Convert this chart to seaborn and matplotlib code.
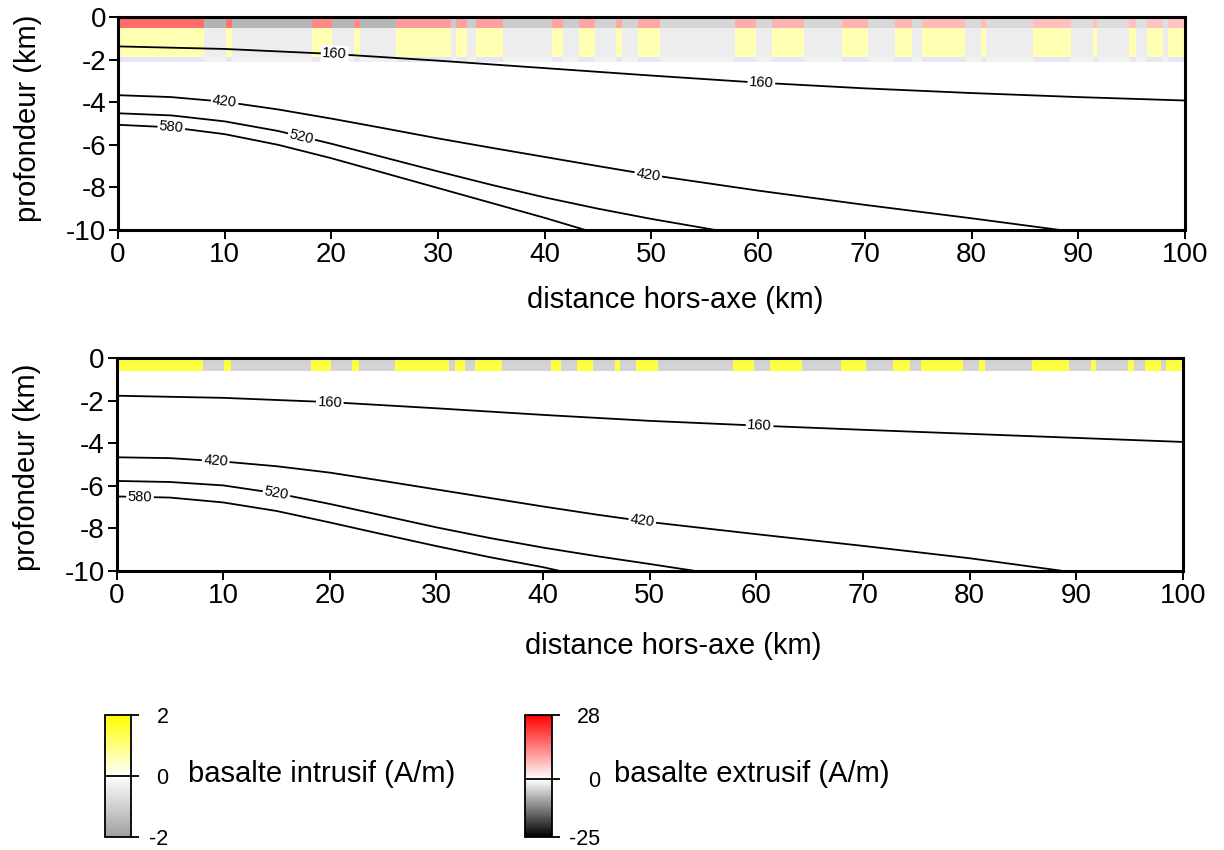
import matplotlib
matplotlib.use("Agg")
import matplotlib.pyplot as plt
import numpy as np
import pandas as pd
import seaborn as sns
from matplotlib.cm import ScalarMappable
from matplotlib.colors import LinearSegmentedColormap, ListedColormap, Normalize

# bornes des blocs d'aimantation (km hors-axe), le premier bloc est en polarité normale
block_edges = [0, 8.1, 10.1, 10.7, 18.2, 20.1, 22.1, 22.7, 26.1, 31.2, 31.7, 32.7, 33.6,
               36.1, 40.7, 41.7, 43.2, 44.7, 46.7, 47.2, 48.7, 50.8, 57.8, 59.8, 61.3,
               64.3, 67.9, 70.3, 72.8, 74.4, 75.4, 79.4, 80.9, 81.4, 85.8, 89.3, 91.4,
               91.8, 94.8, 95.4, 96.4, 97.9, 98.4, 100]

# aimantation du basalte extrusif par bloc (A/m), modèle du haut
extrusive_top = [16, -7.5, 15, -7, 13, -7, 12.5, -7, 11, -5, 10.5, -5, 10.5, -5, 10, -5,
                 10, -4.5, 9.5, -4.5, 9.5, -4, 9, -4, 8.5, -4, 8.5, -3.8, 8, -3.8, 7.5,
                 -3.5, 7.5, -3.5, 7, -3.3, 7, -3.3, 7, -3.2, 6.5, -3.2, 6.5]
# basalte intrusif (A/m) : valeur normale / inverse
intrusive_top = (0.6, -0.36)
intrusive_bottom = (1.47, -0.93)

# épaisseurs des couches (km)
layers_top = {"extrusif": (0, -0.5), "intrusif": (-0.5, -1.9), "gabbro": (-1.9, -2.1)}
layers_bottom = {"intrusif": (0, -0.6)}

# isothermes : distance (km), profondeur (km)
iso_top = {
    160: ([0, 10, 20, 30, 40, 50, 60, 70, 80, 90, 100],
          [-1.38, -1.5, -1.73, -2.05, -2.4, -2.75, -3.08, -3.35, -3.57, -3.76, -3.92]),
    420: ([0, 5, 10, 15, 20, 25, 30, 35, 40, 45, 50, 60, 70, 80, 88.3],
          [-3.67, -3.76, -3.98, -4.34, -4.77, -5.23, -5.7, -6.14, -6.57, -7.0, -7.42,
           -8.15, -8.82, -9.45, -10]),
    520: ([0, 5, 10, 15, 20, 25, 30, 35, 40, 45, 50, 56],
          [-4.52, -4.62, -4.9, -5.35, -5.95, -6.6, -7.25, -7.88, -8.47, -9.0, -9.48, -10]),
    580: ([0, 5, 10, 15, 20, 25, 30, 35, 40, 43.8],
          [-5.06, -5.18, -5.5, -6.0, -6.63, -7.33, -8.03, -8.73, -9.43, -10]),
}
iso_bottom = {
    160: ([0, 10, 20, 30, 40, 50, 60, 70, 80, 90, 100],
          [-1.77, -1.87, -2.07, -2.36, -2.67, -2.95, -3.17, -3.37, -3.56, -3.75, -3.94]),
    420: ([0, 5, 10, 15, 20, 25, 30, 35, 40, 45, 50, 60, 70, 80, 88.8],
          [-4.66, -4.7, -4.86, -5.08, -5.38, -5.77, -6.17, -6.57, -6.97, -7.35, -7.7,
           -8.27, -8.82, -9.4, -10]),
    520: ([0, 5, 10, 15, 20, 25, 30, 35, 40, 45, 50, 54.3],
          [-5.77, -5.82, -5.98, -6.35, -6.85, -7.4, -7.95, -8.45, -8.9, -9.3, -9.67, -10]),
    580: ([0, 5, 10, 15, 20, 25, 30, 35, 40, 41.6],
          [-6.5, -6.55, -6.78, -7.18, -7.72, -8.28, -8.83, -9.35, -9.82, -10]),
}
labels_top = [(160, 20.3), (160, 60.3), (420, 10.0), (420, 49.7), (520, 17.2), (580, 5.0)]
labels_bottom = [(160, 20.0), (160, 60.3), (420, 9.3), (420, 49.3), (520, 15.0), (580, 2.2)]

sns.set_theme(style="ticks")
plt.rcParams["font.family"] = ["Liberation Sans", "DejaVu Sans"]
plt.rcParams["axes.unicode_minus"] = False
plt.rcParams["text.color"] = "black"
plt.rcParams["axes.labelcolor"] = "black"
plt.rcParams["xtick.color"] = "black"
plt.rcParams["ytick.color"] = "black"

cmap_intr = LinearSegmentedColormap.from_list(
    "intr", [(0, "#a0a0a0"), (0.5, "#ffffff"), (1, "#ffff00")])
norm_intr = Normalize(-2, 2)
cmap_extr = LinearSegmentedColormap.from_list(
    "extr", [(0, "#000000"), (25 / 53, "#ffffff"), (1, "#ff0000")])
norm_extr = Normalize(-25, 28)
cmap_gab = ListedColormap(["#f1f1f1", "#e6e6f8"])

extr = np.array(extrusive_top, dtype=float)
normal = extr > 0


def stripes(ax, top, base, values, cmap, norm):
    c = np.asarray(values, dtype=float)[None, :]
    ax.pcolormesh(block_edges, [top, base], c, cmap=cmap, norm=norm,
                  shading="flat", zorder=1)


def style_axes(ax):
    ax.set_xlim(0, 100)
    ax.set_ylim(-10, 0)
    ax.set_xticks(range(0, 101, 10))
    ax.set_yticks(range(-10, 1, 2))
    ax.tick_params(direction="out", length=6.5, width=1.4, labelsize=20, pad=2,
                   colors="black")
    for s in ax.spines.values():
        s.set_linewidth(2.2)
        s.set_color("black")
        s.set_zorder(10)


def isotherms(ax, iso, labels):
    for temp, (xs, zs) in iso.items():
        df = pd.DataFrame({"x": xs, "z": zs})
        sns.lineplot(data=df, x="x", y="z", ax=ax, color="black", lw=1.3,
                     sort=False, estimator=None, zorder=3)
    ax.set_xlabel("distance hors-axe (km)", fontsize=21)
    ax.set_ylabel("profondeur (km)", fontsize=21)
    for temp, xl in labels:
        xs, zs = iso[temp]
        zl = np.interp(xl, xs, zs)
        p0 = ax.transData.transform((xl - 1.5, np.interp(xl - 1.5, xs, zs)))
        p1 = ax.transData.transform((xl + 1.5, np.interp(xl + 1.5, xs, zs)))
        ang = np.degrees(np.arctan2(p1[1] - p0[1], p1[0] - p0[0]))
        ax.text(xl, zl, str(temp), rotation=ang, rotation_mode="anchor",
                ha="center", va="center", fontsize=10.5, zorder=5,
                bbox=dict(fc="white", ec="none", pad=1.2))


fig = plt.figure(figsize=(12.24, 8.5), dpi=100)

# modèle du haut : extrusif + intrusif + gabbro
ax1 = fig.add_axes([0.0964, 0.7294, 0.8717, 0.2506])
style_axes(ax1)
t, b = layers_top["extrusif"]
stripes(ax1, t, b, extr, cmap_extr, norm_extr)
t, b = layers_top["intrusif"]
stripes(ax1, t, b, np.where(normal, *intrusive_top), cmap_intr, norm_intr)
t, b = layers_top["gabbro"]
stripes(ax1, t, b, normal.astype(float), cmap_gab, Normalize(0, 1))
isotherms(ax1, iso_top, labels_top)
ax1.xaxis.set_label_coords(0.522, -0.265)
ax1.yaxis.set_label_coords(-0.071, 0.526)

# modèle du bas : intrusif seul
ax2 = fig.add_axes([0.0952, 0.3282, 0.8713, 0.2506])
style_axes(ax2)
t, b = layers_bottom["intrusif"]
stripes(ax2, t, b, np.where(normal, *intrusive_bottom), cmap_intr, norm_intr)
isotherms(ax2, iso_bottom, labels_bottom)
ax2.xaxis.set_label_coords(0.522, -0.285)
ax2.yaxis.set_label_coords(-0.071, 0.488)


# échelles de couleur
def colorbar(rect, cmap, norm, ticks, text, text_x, pad):
    cax = fig.add_axes(rect)
    cb = fig.colorbar(ScalarMappable(norm=norm, cmap=cmap), cax=cax, ticks=ticks)
    cb.outline.set_linewidth(1.3)
    cb.outline.set_edgecolor("black")
    cax.set_yticklabels([str(v) for v in ticks], ha="right")
    cax.tick_params(length=6, width=1.3, labelsize=15.5, pad=pad, colors="black")
    cax.axhline(0, color="black", lw=1.3)
    fig.text(text_x, rect[1] + rect[3] / 2 + 0.002, text, va="center", fontsize=21,
             color="black")


colorbar([0.0858, 0.0153, 0.0212, 0.1435], cmap_intr, norm_intr, [-2, 0, 2],
         "basalte intrusif (A/m)", 188 / 1224, 21)
colorbar([0.4289, 0.0153, 0.0220, 0.1435], cmap_extr, norm_extr, [-25, 0, 28],
         "basalte extrusif (A/m)", 614 / 1224, 29)

fig.savefig("out.png", dpi=100, facecolor="white")
